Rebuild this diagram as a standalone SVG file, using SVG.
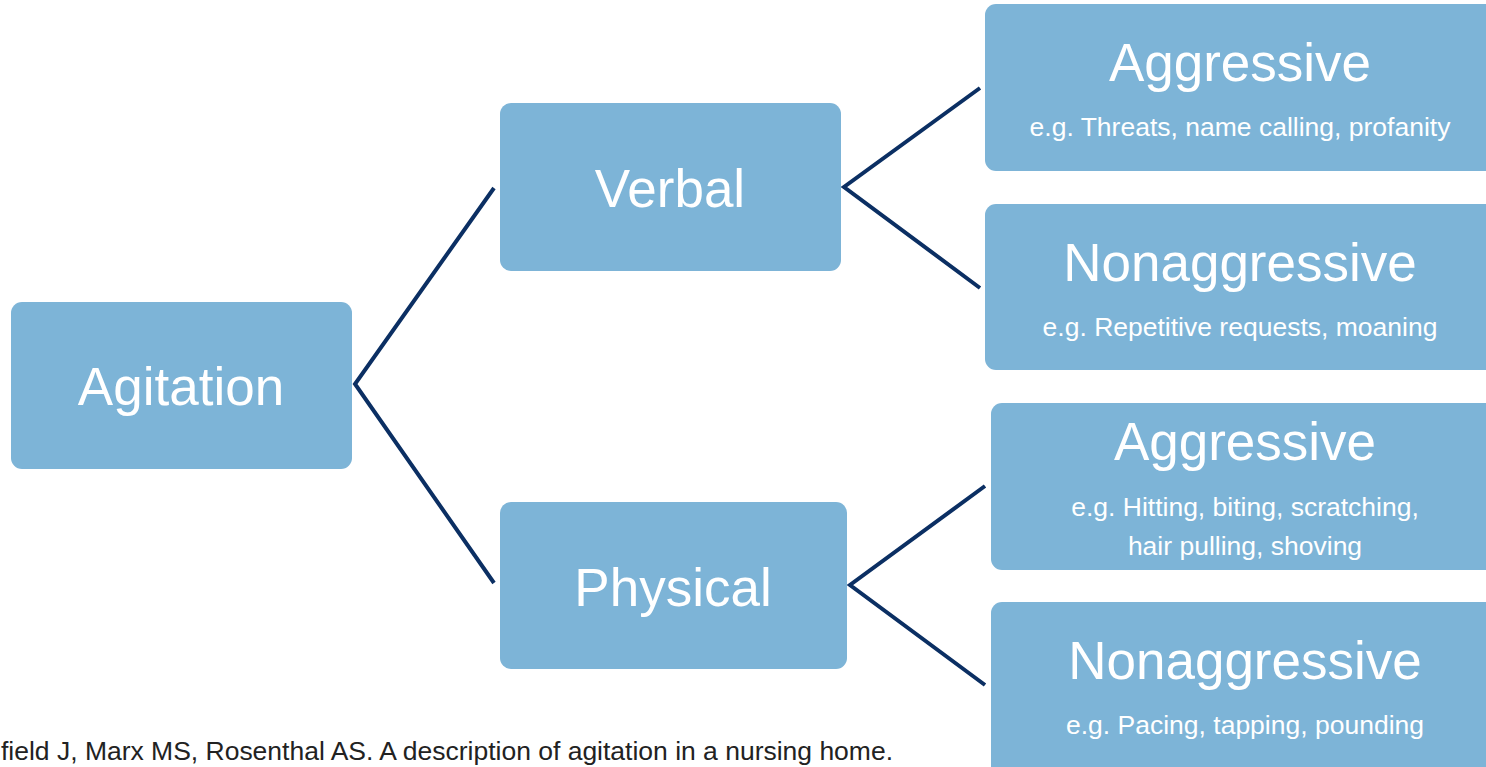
<svg xmlns="http://www.w3.org/2000/svg" width="1486" height="767" viewBox="0 0 1486 767">
<style>
.box{fill:#7db4d7;}
.t{fill:#fff;font-family:"Liberation Sans",Arial,sans-serif;text-anchor:middle;}
.big{font-size:53px;}
.sub{font-size:26.5px;}
.conn{stroke:#0b2f63;stroke-width:4;fill:none;}
.cap{fill:#222;font-family:"Liberation Sans",Arial,sans-serif;font-size:25px;}
</style>
<rect width="1486" height="767" fill="#fff"/>
<g id="connectors">
<polyline class="conn" points="494,188 355,384 494,583"/>
<polyline class="conn" points="980,88 844,187 980,288"/>
<polyline class="conn" points="985,486 850,585 985,685"/>
</g>
<g id="agitation">
<rect class="box" x="11" y="302" width="341" height="167" rx="11"/>
<text class="t big" x="181" y="405">Agitation</text>
</g>
<g id="verbal">
<rect class="box" x="500" y="103" width="341" height="168" rx="11"/>
<text class="t big" x="670" y="207">Verbal</text>
</g>
<g id="physical">
<rect class="box" x="500" y="502" width="347" height="167" rx="11"/>
<text class="t big" x="673" y="606">Physical</text>
</g>
<g id="verbal-aggressive">
<rect class="box" x="985" y="4" width="520" height="167" rx="11"/>
<text class="t big" x="1240" y="81">Aggressive</text>
<text class="t sub" x="1240" y="136">e.g. Threats, name calling, profanity</text>
</g>
<g id="verbal-nonaggressive">
<rect class="box" x="985" y="204" width="520" height="166" rx="11"/>
<text class="t big" x="1240" y="281">Nonaggressive</text>
<text class="t sub" x="1240" y="336">e.g. Repetitive requests, moaning</text>
</g>
<g id="physical-aggressive">
<rect class="box" x="991" y="403" width="520" height="167" rx="11"/>
<text class="t big" x="1245" y="460">Aggressive</text>
<text class="t sub" x="1245" y="516">e.g. Hitting, biting, scratching,</text>
<text class="t sub" x="1245" y="555">hair pulling, shoving</text>
</g>
<g id="physical-nonaggressive">
<rect class="box" x="991" y="602" width="520" height="180" rx="11"/>
<text class="t big" x="1245" y="679">Nonaggressive</text>
<text class="t sub" x="1245" y="734">e.g. Pacing, tapping, pounding</text>
</g>
<text class="cap" x="1" y="760" textLength="892" lengthAdjust="spacingAndGlyphs">field J, Marx MS, Rosenthal AS. A description of agitation in a nursing home.</text>
</svg>
